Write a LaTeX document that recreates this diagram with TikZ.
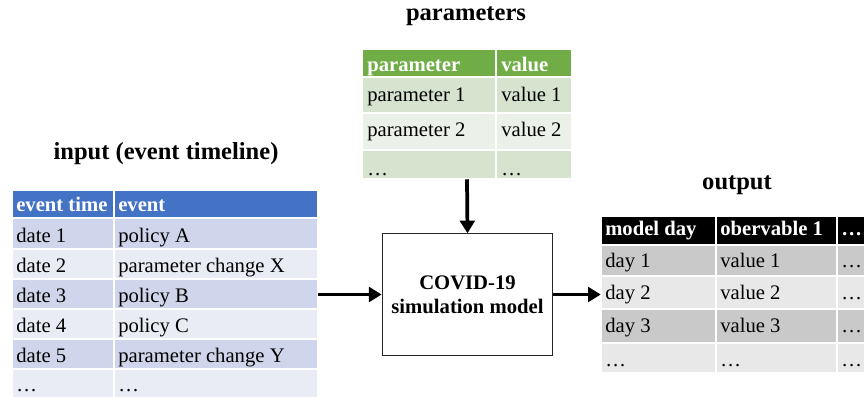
\documentclass[tikz,border=0pt]{standalone}
\usepackage{fontspec}
\setmainfont{Liberation Serif}
\usetikzlibrary{arrows.meta,fit}
\definecolor{evhead}{HTML}{4472C4}
\definecolor{evdark}{HTML}{CFD5EA}
\definecolor{evlight}{HTML}{E9EBF5}
\definecolor{parhead}{HTML}{70AD47}
\definecolor{pardark}{HTML}{D5E3CF}
\definecolor{parlight}{HTML}{EBF1E9}
\definecolor{outdark}{HTML}{C9C9C9}
\definecolor{outlight}{HTML}{E8E8E8}
\begin{document}
\begin{tikzpicture}[x=0.75pt, y=-0.75pt, font=\fontsize{15.5}{18}\selectfont,
	cell/.style={draw=white, line width=0.9pt},
	txt/.style={anchor=base west, inner sep=0pt},
	head/.style={txt, text=white, font=\fontsize{15.5}{18}\selectfont\bfseries},
	ttl/.style={anchor=base, inner sep=0pt, font=\fontsize{18.4}{22}\selectfont\bfseries},
	conn/.style={line width=2.8pt, -{Triangle[length=9.5pt, width=11pt]}}]
	\useasboundingbox (0,0) rectangle (864,398);
	\clip (0,0) rectangle (864,398);
	% input table
	\node[ttl] (tin) at (166,160) {input (event timeline)};
	\filldraw[cell, fill=evhead] (12,190) rectangle (114,218);
	\filldraw[cell, fill=evhead] (114,190) rectangle (318,218);
	\node[head] (ev0a) at (16,211.5) {event time};
	\node[head] (ev0b) at (118,211.5) {event};
	\foreach \ytop/\ybot/\fc/\ta/\tb [count=\r] in {218/249/evdark/date 1/policy A,
		249/279/evlight/date 2/parameter change X, 279/309/evdark/date 3/policy B,
		309/339/evlight/date 4/policy C, 339/369/evdark/date 5/parameter change Y,
		369/398/evlight/…/…}{
		\filldraw[cell, fill=\fc] (12,\ytop) rectangle (114,\ybot);
		\filldraw[cell, fill=\fc] (114,\ytop) rectangle (318,\ybot);
		\node[txt] (ev\r a) at (16,\ybot-6.5) {\ta};
		\node[txt] (ev\r b) at (118,\ybot-6.5) {\tb};
	}
	\node[fit={(12,190) (318,398)}, inner sep=0pt] (input) {};
	% parameter table
	\node[ttl] (tpar) at (466,21) {parameters};
	\filldraw[cell, fill=parhead] (362,49) rectangle (496,77);
	\filldraw[cell, fill=parhead] (496,49) rectangle (572,77);
	\node[head] (par0a) at (367,72) {parameter};
	\node[head] (par0b) at (501,72) {value};
	\foreach \ytop/\ybot/\yb/\fc/\ta/\tb [count=\r] in {77/113/102/pardark/parameter 1/value 1,
		113/150/137/parlight/parameter 2/value 2, 150/179/176/pardark/…/…}{
		\filldraw[cell, fill=\fc] (362,\ytop) rectangle (496,\ybot);
		\filldraw[cell, fill=\fc] (496,\ytop) rectangle (572,\ybot);
		\node[txt] (par\r a) at (367,\yb) {\ta};
		\node[txt] (par\r b) at (501,\yb) {\tb};
	}
	\node[fit={(362,49) (572,179)}, inner sep=0pt] (params) {};
	% output table
	\node[ttl] (tout) at (737,190) {output};
	\filldraw[cell, fill=black] (601,216) rectangle (716,245);
	\filldraw[cell, fill=black] (716,216) rectangle (837,245);
	\filldraw[cell, fill=black] (837,216) rectangle (880,245);
	\node[head] (out0a) at (605,236) {model day};
	\node[head] (out0b) at (720,236) {obervable 1};
	\node[head] (out0c) at (841,236) {…};
	\foreach \ytop/\ybot/\yb/\fc/\ta/\tb [count=\r] in {245/276/268/outdark/day 1/value 1,
		276/309/299.5/outlight/day 2/value 2, 309/343/333/outdark/day 3/value 3,
		343/373/367/outlight/…/…}{
		\filldraw[cell, fill=\fc] (601,\ytop) rectangle (716,\ybot);
		\filldraw[cell, fill=\fc] (716,\ytop) rectangle (837,\ybot);
		\filldraw[cell, fill=\fc] (837,\ytop) rectangle (880,\ybot);
		\node[txt] (out\r a) at (605,\yb) {\ta};
		\node[txt] (out\r b) at (720,\yb) {\tb};
		\node[txt] (out\r c) at (841,\yb) {…};
	}
	\node[fit={(601,216) (864,373)}, inner sep=0pt] (output) {};
	% model
	\node[draw=black!85, line width=0.8pt, minimum width=128pt, minimum height=91pt,
		align=center, inner sep=0pt, font=\fontsize{15.5}{18}\selectfont\bfseries] (model) at (467.5,294.5)
		{COVID-19\\simulation model};
	\draw[conn] (model.west -| input.east) -- (model.west);
	\draw[conn] (params.south) -- (model.north);
	\draw[conn] (model.east) -- (model.east -| output.west);
\end{tikzpicture}
\end{document}
